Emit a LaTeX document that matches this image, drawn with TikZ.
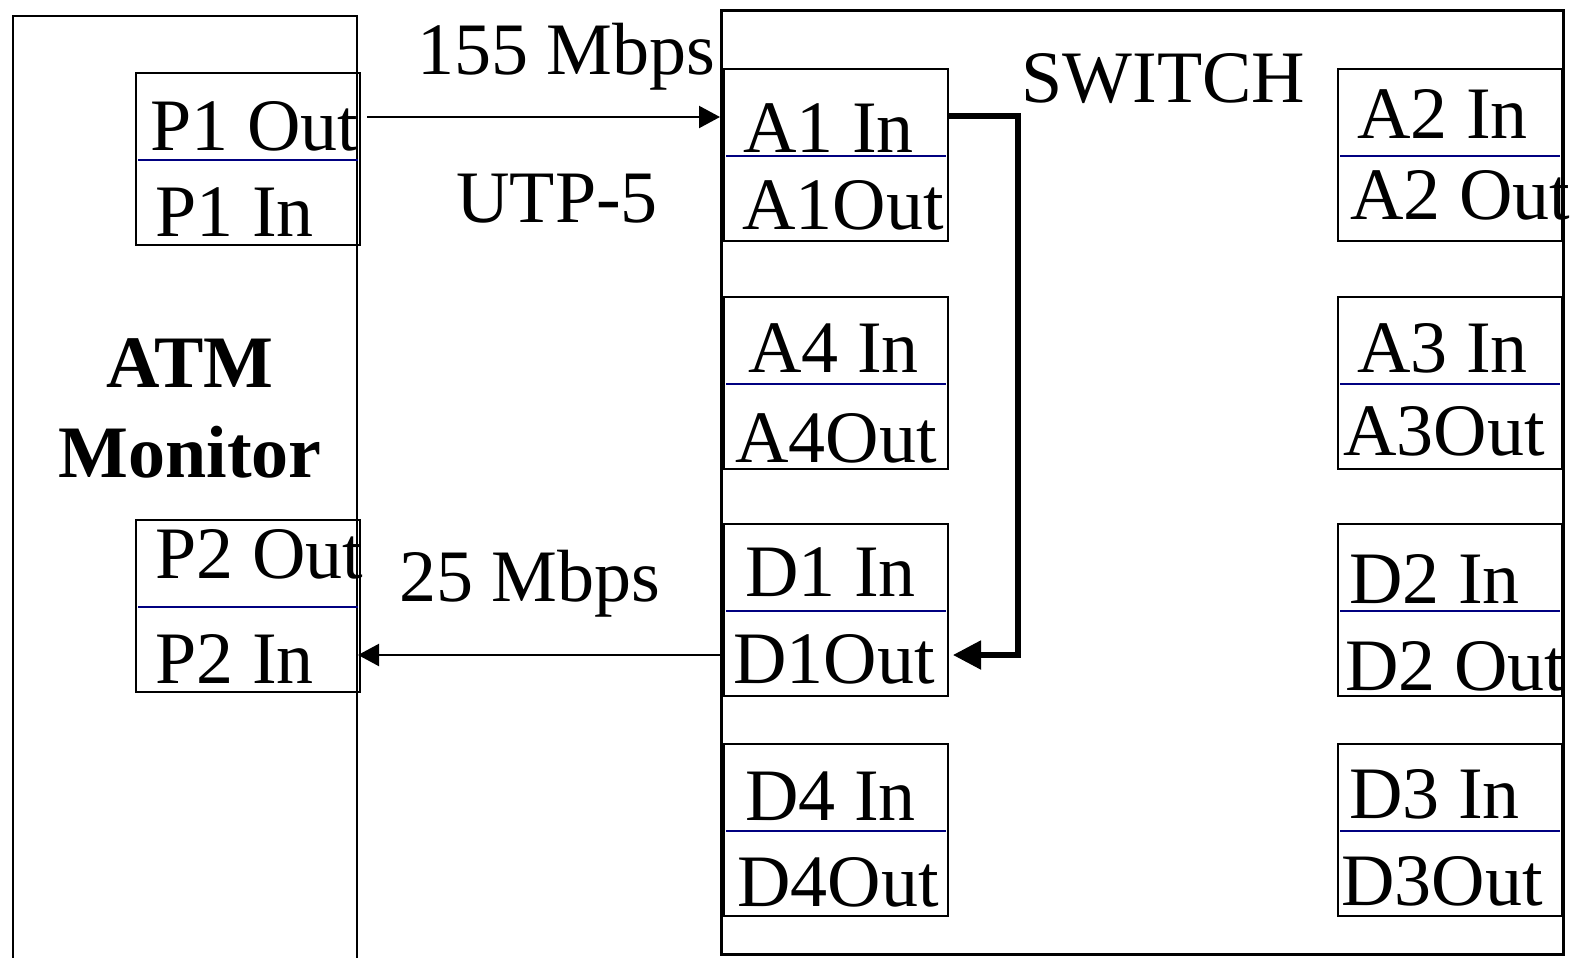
\documentclass[tikz,border=0pt]{standalone}
\usepackage{fontspec}
\setmainfont{Liberation Serif}
\usetikzlibrary{arrows.meta}
\definecolor{navy}{RGB}{0,0,128}
\newcommand\portbox[9]{%
  \node[port] (#1) at (#2,#3) {};
  \draw[divider] ([yshift=-44pt,xshift=1.5pt]#1.north west) -- ([yshift=-44pt,xshift=-1.5pt]#1.north east);
  \node[lbl] (#1top) at (#5,#6) {#4};
  \node[lbl] (#1bot) at (#8,#9) {#7};
}
\begin{document}
\begin{tikzpicture}[x=0.5pt,y=-0.5pt,
  port/.style={draw, line width=1pt, minimum width=112pt, minimum height=86pt, inner sep=0pt, anchor=north west},
  lbl/.style={font=\fontsize{37}{40}\selectfont, inner sep=0pt, anchor=base west},
  divider/.style={draw=navy, line width=1.4pt},
  thinarrow/.style={line width=1.1pt, -{Triangle[length=10.5pt,width=11pt]}},
  thickarrow/.style={line width=2.6pt, -{Triangle[length=14pt,width=14pt]}}]
\useasboundingbox (0,0) rectangle (1571,958);
% ATM monitor (open at bottom)
\draw[line width=1.1pt] (13,958) -- (13,16) -- (357,16) -- (357,958);
\node[font=\fontsize{37}{45}\selectfont\bfseries, inner sep=0pt, anchor=base] (atm) at (190,387) {ATM};
\node[font=\fontsize{37}{45}\selectfont\bfseries, inner sep=0pt, anchor=base] (mon) at (190,477) {Monitor};
% Switch
\node[draw, line width=1.3pt, minimum width=421pt, minimum height=472pt, inner sep=0pt, anchor=north west] (sw) at (720,9) {};
\node[lbl] (swlbl) at (1021,102) {SWITCH};
% ports
\portbox{p1}{135}{72}{P1 Out}{150}{150}{P1 In}{155}{236}
\portbox{p2}{135}{519}{P2 Out}{155}{578}{P2 In}{155}{683}
\portbox{a1}{723}{68}{A1 In}{743}{152}{A1Out}{742}{229}
\portbox{a4}{723}{296}{A4 In}{748}{372}{A4Out}{735}{462}
\portbox{d1}{723}{523}{D1 In}{745}{596}{D1Out}{733}{683}
\portbox{d4}{723}{743}{D4 In}{745}{820}{D4Out}{737}{906}
\portbox{a2}{1337}{68}{A2 In}{1357}{138}{A2 Out}{1350}{219}
\portbox{a3}{1337}{296}{A3 In}{1357}{372}{A3Out}{1343}{455}
\portbox{d2}{1337}{523}{D2 In}{1349}{603}{D2 Out}{1345}{690}
\portbox{d3}{1337}{743}{D3 In}{1349}{818}{D3Out}{1341}{905}
% link labels
\node[lbl] (r155) at (417,75) {155 Mbps};
\node[lbl] (utp) at (456,222) {UTP-5};
\node[lbl] (r25) at (399,601) {25 Mbps};
% connectors
\coordinate (s1) at (367,117);
\draw[thinarrow] (s1) -- (sw.west |- s1);
\coordinate (s2) at (358,655);
\draw[thinarrow] (sw.west |- s2) -- (s2);
\coordinate (k1) at (1018,116);
\coordinate (k2) at (1018,655);
\draw[thickarrow] (a1.east |- k1) -- (k1) -- (k2) -- ([xshift=2pt]d1.east |- k2);
\end{tikzpicture}
\end{document}
